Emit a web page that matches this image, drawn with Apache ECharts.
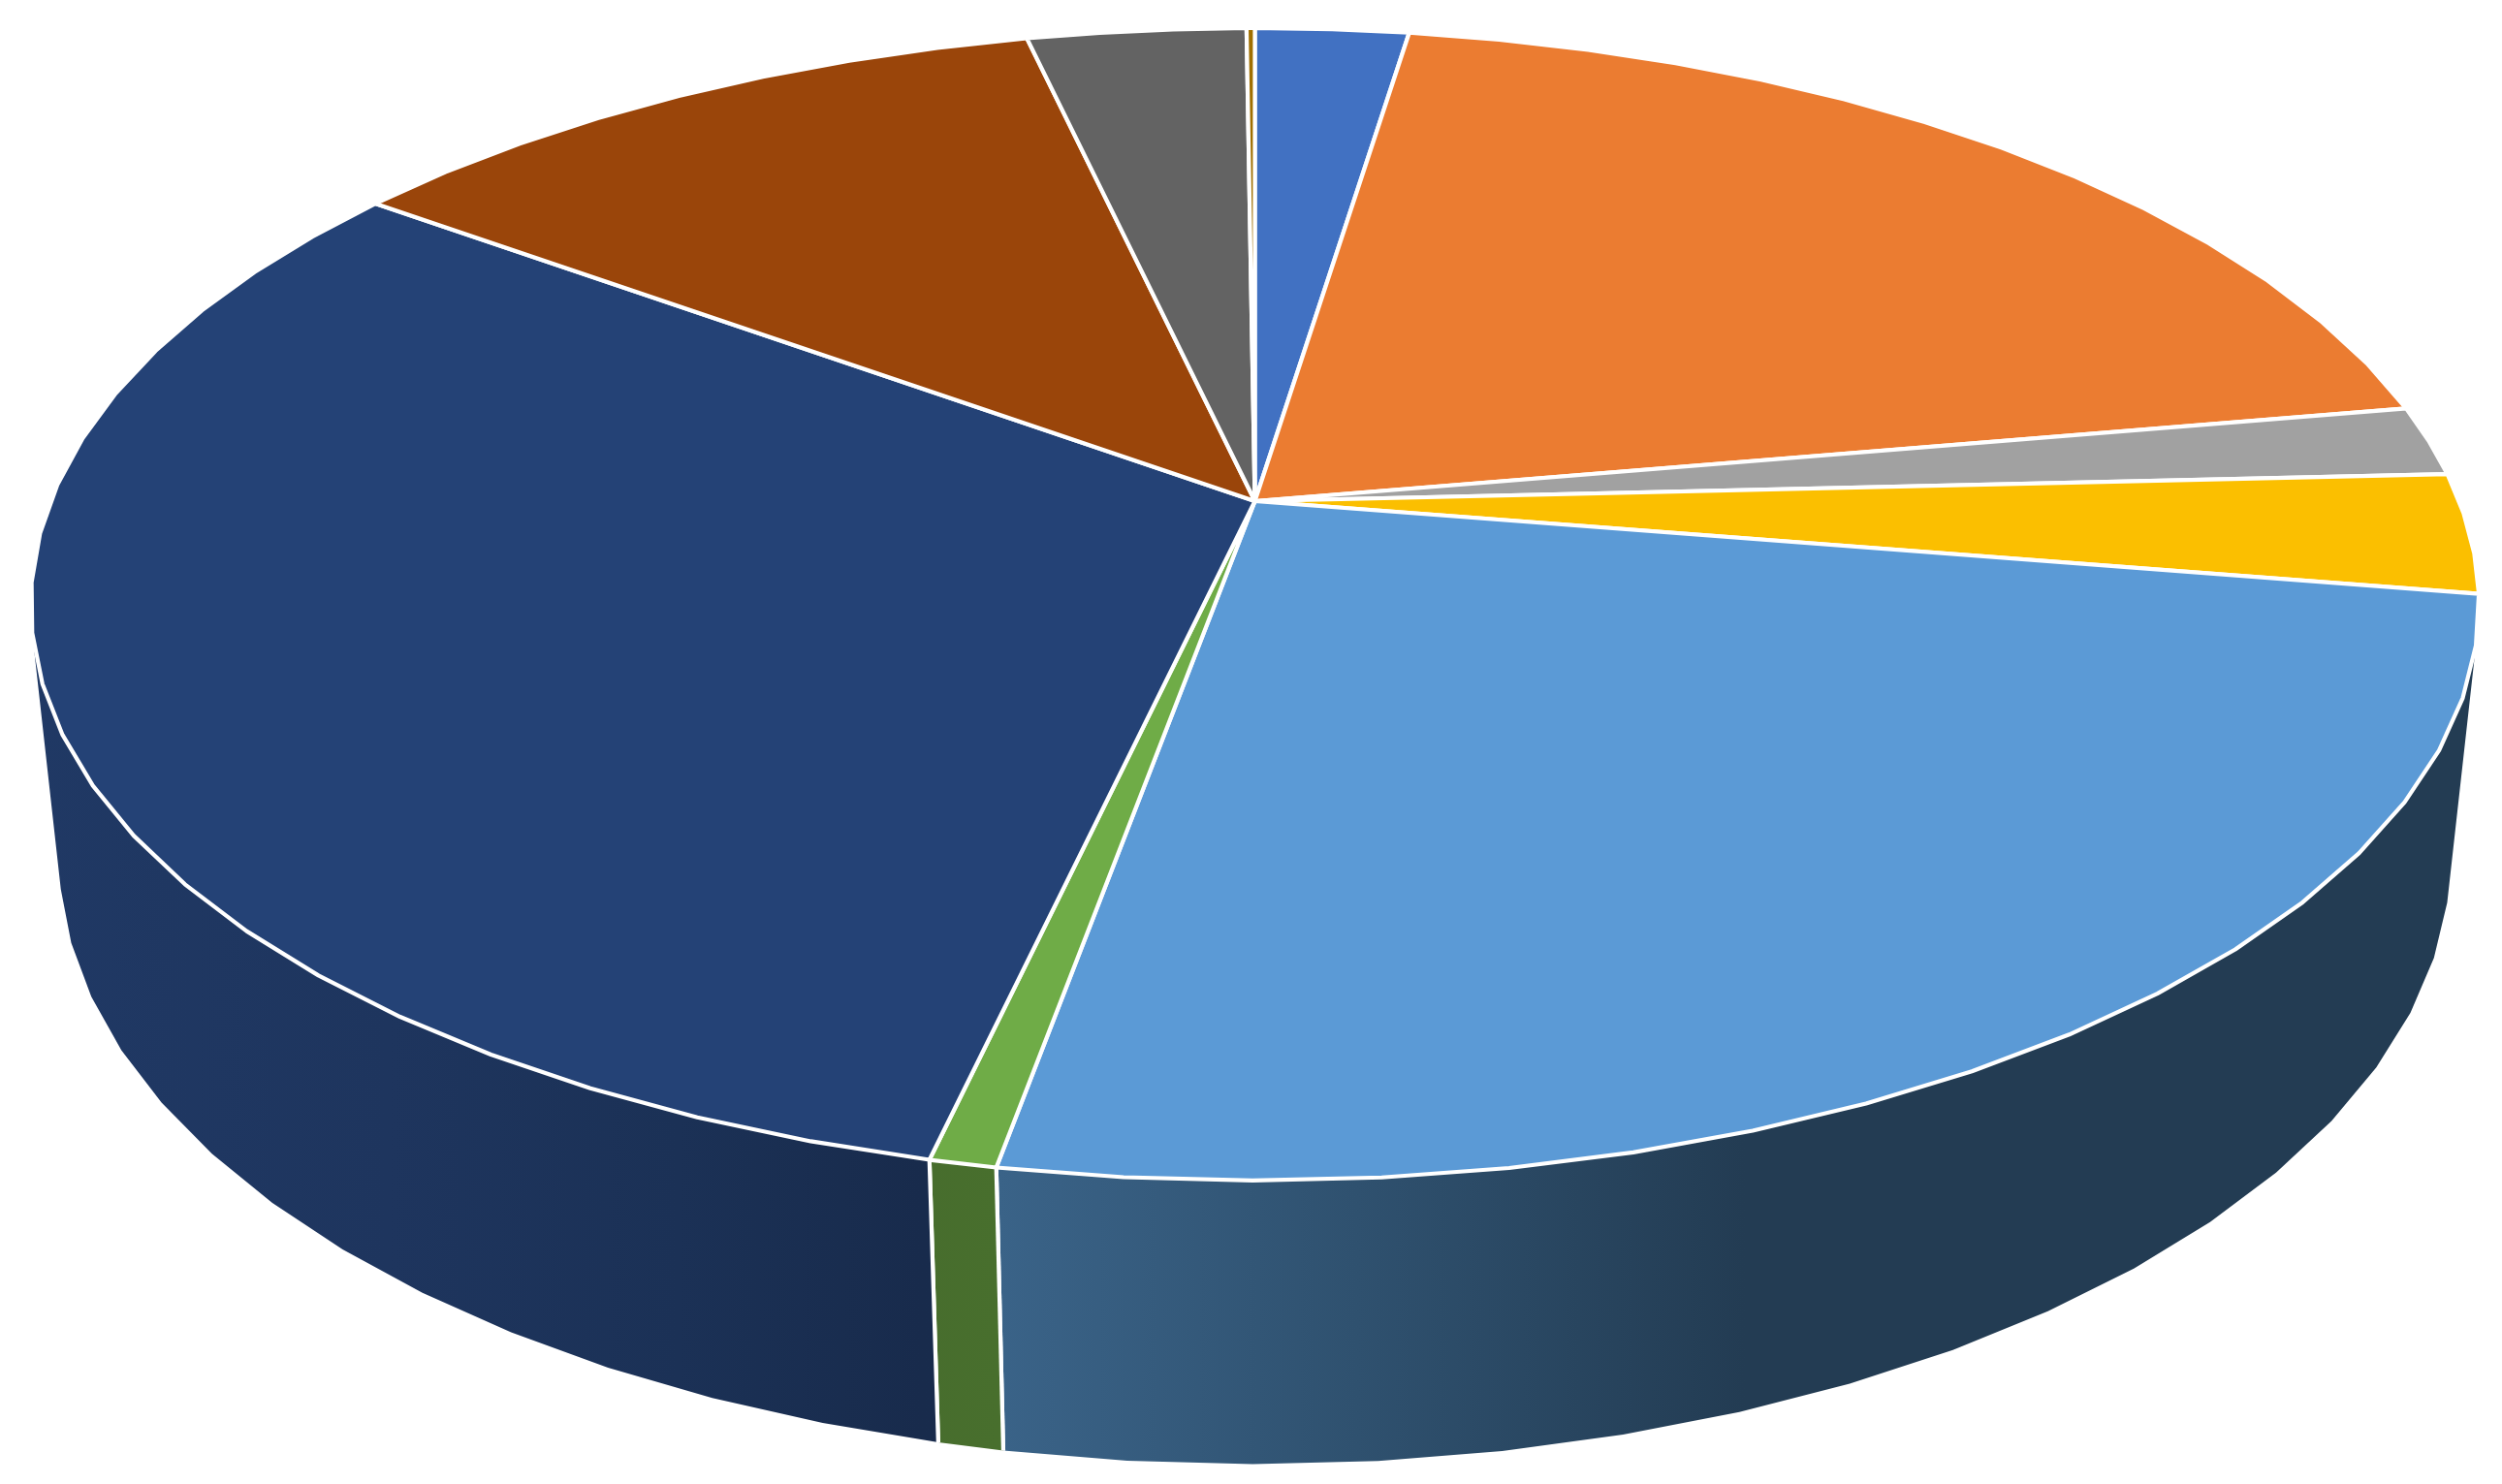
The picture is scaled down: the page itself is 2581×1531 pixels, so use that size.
<!DOCTYPE html>
<html>
<head>
<meta charset="utf-8">
<style>html,body{margin:0;padding:0;background:#fff}#c{width:2581px;height:1531px}</style>
<script src="https://cdn.jsdelivr.net/npm/echarts@6/dist/echarts.min.js"></script>
</head>
<body>
<div id="c"></div>
<script>
// Chart data: share of each slice (percent), clockwise from the top
var categories = ['A','B','C','D','E','F','G','H','I','J'];
var values = [2.41, 19.85, 1.96, 3.36, 25.25, 0.75, 31.46, 11.39, 3.44, 0.13];
var topColors = ['#4171C2','#EB7C31','#A1A1A1','#FBBF00','#5B9AD6','#6FAC47','#244276','#9A450A','#636363','#A06F00'];
var wallBase = ['#4472C4','#ED7D31','#A5A5A5','#FFC000','#5B9BD5','#70AD47','#264478','#9E480E','#636363','#997300'];

// Projection of the tilted disc
var view = {cx:1294.5, cy:517, A:1242.4, B:575.4, C:263, k:0.1791, w0:1.023, stepDeg:360/70, border:4.2};
// Wall shading: brightness multiplier against page x
var shade = [[0,0.84],[400,0.78],[700,0.72],[950,0.63],[1030,0.64],[1400,0.52],[1800,0.39],[2581,0.39]];

var total = values.reduce(function(a,b){return a+b;},0);

function project(deg, bottom){
  var t = deg*Math.PI/180, x = Math.sin(t), y = -Math.cos(t);
  var w = (bottom ? view.w0 : 1) - view.k*y;
  return [view.cx + view.A*x/w, view.cy + (view.B*y + (bottom?view.C:0))/w];
}
function frontFacing(deg){ return -Math.cos(deg*Math.PI/180) > 0.2; }
function arcAngles(i){
  var before = 0; for (var j=0;j<i;j++) before += values[j];
  var a0 = before/total*360, sweep = values[i]/total*360;
  var n = Math.max(1, Math.ceil(sweep/view.stepDeg)), out=[];
  for (var s=0;s<=n;s++) out.push(a0 + sweep*s/n);
  return out;
}
function wallFill(i){
  var c = echarts.color.parse(wallBase[i]), stops = shade.map(function(s){
    return {offset:s[0]/2581, color:'rgb('+Math.round(c[0]*s[1])+','+Math.round(c[1]*s[1])+','+Math.round(c[2]*s[1])+')'};
  });
  return new echarts.graphic.LinearGradient(0,0,2581,0,stops,true);
}
function divider(deg){
  var a = project(deg,false), b = project(deg,true);
  return {type:'line', shape:{x1:a[0],y1:a[1],x2:b[0],y2:b[1]},
    style:{stroke:'#fff', lineWidth:view.border, fill:null}};
}
function renderWall(params, api){
  var i = params.dataIndex;
  var all = arcAngles(i), ang = all.filter(frontFacing);
  if (ang.length < 2) return null;
  var upper = ang.map(function(a){return project(a,false);});
  var lower = ang.map(function(a){return project(a,true);}).reverse();
  var kids = [{type:'polygon', shape:{points:upper.concat(lower)},
    style:{fill:wallFill(i), stroke:null}}];
  if (ang[0] === all[0]) kids.push(divider(ang[0]));
  if (ang[ang.length-1] === all[all.length-1]) kids.push(divider(ang[ang.length-1]));
  return {type:'group', children:kids};
}
function renderTop(params, api){
  var i = params.dataIndex;
  var pts = [[view.cx, view.cy]].concat(arcAngles(i).map(function(a){return project(a,false);}));
  return {type:'polygon', shape:{points:pts},
    style:{fill:topColors[i], stroke:'#fff', lineWidth:view.border, lineJoin:'round'}};
}
var data = categories.map(function(c,i){return {name:c, value:[values[i]]};});
var chart = echarts.init(document.getElementById('c'), null, {renderer:'canvas', width:2581, height:1531});
chart.setOption({
  animation:false,
  backgroundColor:'#ffffff',
  series:[
    {type:'custom', name:'walls', coordinateSystem:'none', renderItem:renderWall, data:data, z:1, silent:true},
    {type:'custom', name:'tops', coordinateSystem:'none', renderItem:renderTop, data:data, z:2, silent:true}
  ]
});
</script>
</body>
</html>
